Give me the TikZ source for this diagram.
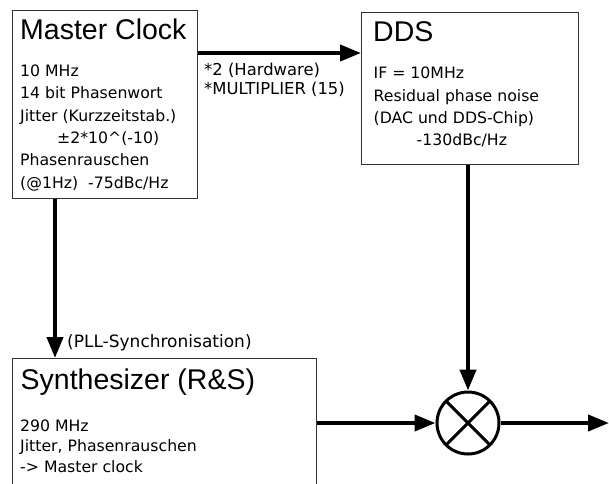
\documentclass[tikz,border=0pt]{standalone}
\usepackage{fontspec}
\setmainfont{DejaVu Sans}
\newfontfamily\headfont{Liberation Sans}
\usetikzlibrary{positioning,calc}
\usetikzlibrary{arrows.meta}
\definecolor{BoxGray}{RGB}{50,50,50}
\tikzset{
  blk/.style={draw=BoxGray,line width=1pt,fill=white,inner sep=0pt,anchor=north west},
  head/.style={anchor=base west,inner sep=0pt,font=\headfont\fontsize{28.5}{34}\selectfont},
  body/.style={anchor=north west,inner sep=0pt,align=left,font=\fontsize{15.7}{22.4}\selectfont},
  lab/.style={inner sep=0pt,align=left,font=\fontsize{16.4}{19}\selectfont},
}
\tikzset{mix/.style={circle,draw=black,fill=white,line width=3pt,minimum size=62pt,inner sep=0pt},
  cross/.style={line width=3pt,shorten <=2pt,shorten >=2pt},
  sig/.style={draw=black,line width=4pt,-{Triangle[length=21pt,width=16pt]}}}

\begin{document}
\begin{tikzpicture}[x=1pt,y=1pt]
\useasboundingbox[fill=white] (0,0) rectangle (609,-483);
\node[blk,minimum width=185pt,minimum height=188pt] (mc) at (12,-10) {};
\node[blk,minimum width=217pt,minimum height=152pt] (dds) at (361,-12) {};
\node[blk,minimum width=304pt,minimum height=150pt] (syn) at (12,-358) {};
\node[mix] (mixer) at (468,-423) {};
\draw[cross] (mixer.north west) -- (mixer.south east);
\draw[cross] (mixer.north east) -- (mixer.south west);
\node[head] (mctitle) at (20,-39) {Master Clock};
\node[head] (ddstitle) at (373,-41) {DDS};
\node[head] (syntitle) at (20.5,-389) {Synthesizer (R\&S)};
\node[body] (mcbody) at (20,-64.5) {10 MHz\\14 bit Phasenwort\\Jitter (Kurzzeitstab.)\\
  \hspace*{37pt}±2*10\textasciicircum(-10)\\Phasenrauschen\\(@1Hz)\ \ -75dBc/Hz};
\node[body] (ddsbody) at (373.5,-66.8) {IF = 10MHz\\Residual phase noise\\(DAC und DDS-Chip)\\
  \hspace*{43pt}-130dBc/Hz};
\node[body,font=\fontsize{15.7}{20.5}\selectfont] (synbody) at (20,-419.3) {290 MHz\\Jitter, Phasenrauschen\\-> Master clock};
\node[lab,anchor=north west] (mult) at (204,-62.5) {*2 (Hardware)\\*MULTIPLIER (15)};
\node[lab,anchor=base west,font=\fontsize{17}{19}\selectfont] (pll) at (67,-347) {(PLL-Synchronisation)};
\coordinate (out) at (609,-423);
\draw[sig] ([yshift=-43pt]mc.north east) -- ([yshift=-41pt]dds.north west);
\draw[sig] ([xshift=43pt]mc.south west) -- ([xshift=43pt]syn.north west);
\draw[sig] (dds.south -| mixer) -- (mixer.north);
\draw[sig] (mixer -| syn.east) -- (mixer.west);
\draw[sig] (mixer.east) -- (out);
\end{tikzpicture}
\end{document}
